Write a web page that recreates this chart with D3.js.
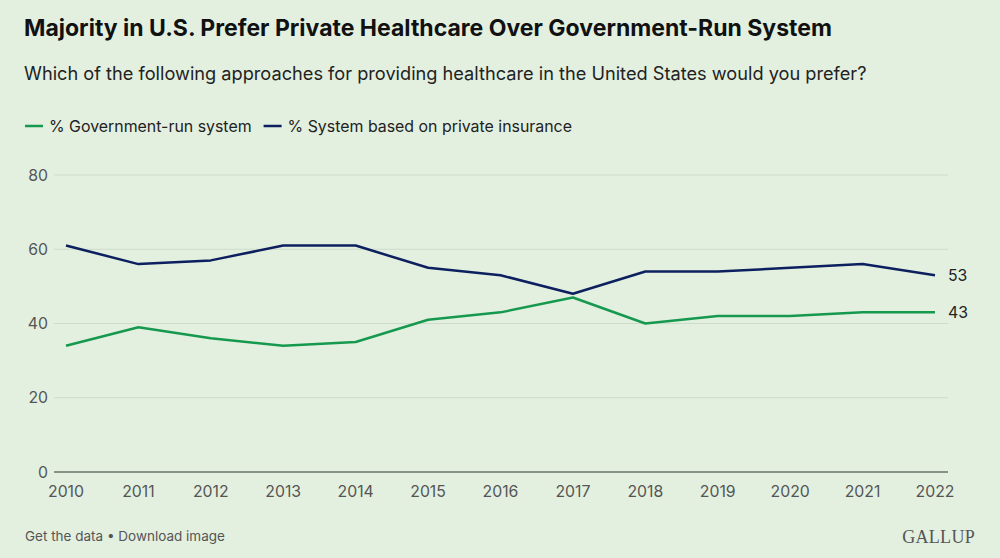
<!DOCTYPE html>
<html><head><meta charset="utf-8">
<script src="https://cdn.jsdelivr.net/npm/d3@7"></script>
<style>
body{margin:0;background:#e3f0e0;}
svg{display:block;font-family:Inter,"Noto Sans",sans-serif;}
</style></head><body>
<svg id="c" width="1000" height="558"></svg>
<script>
const years = [2010,2011,2012,2013,2014,2015,2016,2017,2018,2019,2020,2021,2022];
const privateIns = [61,56,57,61,61,55,53,48,54,54,55,56,53];
const government = [34,39,36,34,35,41,43,47,40,42,42,43,43];
const yTicks = [0,20,40,60,80];
const seriesNames = ["% Government-run system","% System based on private insurance"];
const colors = ["#16994f","#0c1f5e"];

const svg = d3.select("#c");
svg.append("rect").attr("width",1000).attr("height",558).attr("fill","#e3f0e0");

svg.append("text").attr("x",24).attr("y",36).attr("font-size",23).attr("font-weight",700)
  .attr("fill","#111").text("Majority in U.S. Prefer Private Healthcare Over Government-Run System");
svg.append("text").attr("x",24).attr("y",80).attr("font-size",18.2).attr("fill","#222")
  .text("Which of the following approaches for providing healthcare in the United States would you prefer?");

// legend
const lg = svg.append("g");
let lx = 25;
seriesNames.forEach((n,i)=>{
  lg.append("line").attr("x1",lx).attr("x2",lx+18).attr("y1",126).attr("y2",126)
    .attr("stroke",colors[i]).attr("stroke-width",2.5);
  const t = lg.append("text").attr("x",lx+24).attr("y",132).attr("font-size",15.9).attr("fill","#222").text(n);
  lx += 24 + t.node().getComputedTextLength() + 12;
});

const x = d3.scaleLinear().domain([2010,2022]).range([66,935]);
const y = d3.scaleLinear().domain([0,80]).range([472,175]);

const grid = svg.append("g");
yTicks.forEach(v=>{
  grid.append("line").attr("x1",54).attr("x2",948).attr("y1",y(v)).attr("y2",y(v))
    .attr("stroke", v===0 ? "#333" : "#cddcc9").attr("stroke-width", v===0?1.2:1);
  grid.append("text").attr("x",48).attr("y",y(v)+5.5).attr("text-anchor","end")
    .attr("font-size",15.8).attr("fill","#555").text(v);
});
years.forEach(yr=>{
  svg.append("text").attr("x",x(yr)).attr("y",497).attr("text-anchor","middle")
    .attr("font-size",15.8).attr("fill","#555").text(yr);
});

const line = d3.line().x((d,i)=>x(years[i])).y(d=>y(d));
[government, privateIns].forEach((s,i)=>{
  svg.append("path").attr("d",line(s)).attr("fill","none").attr("stroke",colors[i])
    .attr("stroke-width",2.5).attr("stroke-linejoin","round");
  svg.append("text").attr("x",x(2022)+13).attr("y",y(s[s.length-1])+6)
    .attr("font-size",15.8).attr("fill","#222").text(s[s.length-1]);
});

svg.append("text").attr("x",25).attr("y",541).attr("font-size",13.5).attr("fill","#555")
  .text("Get the data \u2022 Download image");
svg.append("text").attr("x",975).attr("y",543).attr("text-anchor","end")
  .attr("font-family","'Liberation Serif','DejaVu Serif',serif").attr("font-size",18)
  .attr("letter-spacing",0.3).attr("fill","#555").text("GALLUP");
</script></body></html>
